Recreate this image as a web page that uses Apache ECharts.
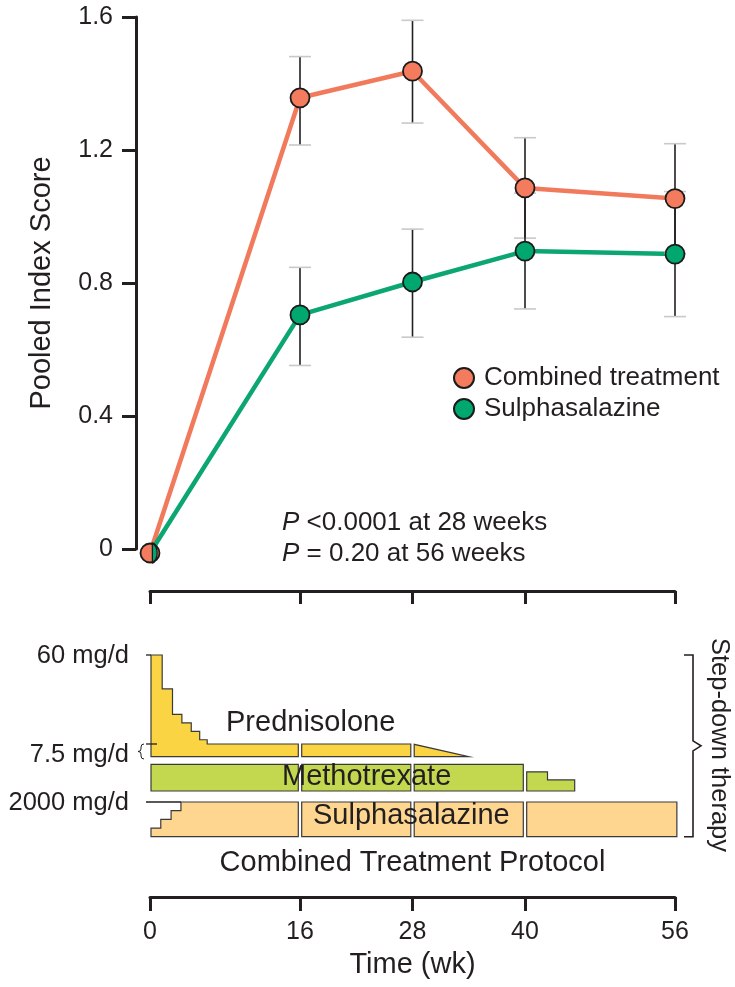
<!DOCTYPE html>
<html><head><meta charset="utf-8">
<script src="https://cdn.jsdelivr.net/npm/echarts@6/dist/echarts.min.js"></script>
<style>html,body{margin:0;padding:0;background:#fff}#c{width:735px;height:987px}</style>
</head><body><div id="c"></div>
<script>
// ---------- data ----------
const weeks = [0, 16, 28, 40, 56];
const combinedMean = [-0.012, 1.357, 1.437, 1.086, 1.054];
const combinedLow  = [null, 1.215, 1.281, 0.935, 0.889];
const combinedHigh = [null, 1.481, 1.590, 1.237, 1.219];
const sulphaMean = [-0.012, 0.704, 0.803, 0.896, 0.887];
const sulphaLow  = [null, 0.552, 0.637, 0.722, 0.699];
const sulphaHigh = [null, 0.847, 0.962, 1.070, 1.075];
const yTicks = [0, 0.4, 0.8, 1.2, 1.6];
const timeTicks = [0, 16, 28, 40, 56];
const seriesNames = ['Combined treatment', 'Sulphasalazine'];
// protocol: [week, dose] outline of each drug's dose
const protocolBreaks = [16, 28, 40];
const predProfile = [[0,60],[1.3,60],[1.3,40],[2.4,40],[2.4,25],[3.4,25],[3.4,20],[4.4,20],[4.4,15],[5.3,15],[5.3,10],[6.1,10],[6.1,7.5],[28,7.5],[34,0]];
const mtxProfile  = [[0,7.5],[40,7.5],[40,5.4],[42.4,5.4],[42.4,3.1],[45.3,3.1],[45.3,0]];
const sszProfile  = [[0,500],[1.15,500],[1.15,1000],[2.25,1000],[2.25,1500],[3.3,1500],[3.3,2000],[56.2,2000]];
const drugMax = [60, 7.5, 2000];
const doseLabels = [[0, 60, '60 mg/d'], [0, 7.5, '7.5 mg/d'], [2, 2000, '2000 mg/d']];
const drugNames = ['Prednisolone', 'Methotrexate', 'Sulphasalazine'];

// ---------- styles ----------
const FF = '"Liberation Sans", Arial, Helvetica, sans-serif';
const INK = '#231F20';
const ORANGE = '#F47B5E', ORANGE_L = '#F27A5C';
const GREEN = '#00A870', GREEN_L = '#0BA672';
const trackStyle = [
  {base: 165.7, full: 101.7, fill: '#FBD443'},
  {base: 200.0, full: 26.7,  fill: '#C3D84E'},
  {base: 245.7, full: 34.7,  fill: '#FED690'}
];
const profiles = [predProfile, mtxProfile, sszProfile];
// top plot: y axis line sits 14px left of week 0
const PX_PER_WEEK = 525 / 56;
const X_PAD_WEEKS = 14 / PX_PER_WEEK;

function errItem(params, api) {
  const x = api.value(0), lo = api.value(1), hi = api.value(2);
  const p1 = api.coord([x, lo]), p2 = api.coord([x, hi]);
  const cap = 11;
  return {type: 'group', children: [
    {type: 'line', shape: {x1: p1[0], y1: p1[1], x2: p2[0], y2: p2[1]}, style: {stroke: INK, lineWidth: 1.6}},
    {type: 'line', shape: {x1: p1[0]-cap, y1: p1[1], x2: p1[0]+cap, y2: p1[1]}, style: {stroke: '#c9c9c9', lineWidth: 1.6}},
    {type: 'line', shape: {x1: p2[0]-cap, y1: p2[1], x2: p2[0]+cap, y2: p2[1]}, style: {stroke: '#c9c9c9', lineWidth: 1.6}}
  ]};
}

function yAt(pts, x) {
  for (let j = 0; j < pts.length - 1; j++) {
    const a = pts[j], b = pts[j+1];
    if (b[0] > a[0] && x >= a[0] && x <= b[0]) return a[1] + (b[1]-a[1])*(x-a[0])/(b[0]-a[0]);
  }
  return pts[pts.length-1][1];
}

function protocolItem(params, api) {
  const i = api.value(1);
  const st = trackStyle[i];
  const top = params.coordSys.y;
  const X = w => api.coord([w, 0])[0];
  const baseY = top + st.base;
  const lvl = d => baseY - d / drugMax[i] * st.full;
  const pts = profiles[i].map(p => [X(p[0]), lvl(p[1])]);
  const xEnd = pts[pts.length-1][0];
  const x0 = X(0) + 1;
  const cuts = protocolBreaks.map(X).filter(x => x < xEnd - 2);
  const bounds = [x0].concat(cuts).concat([xEnd]);
  const children = [];
  for (let k = 0; k < bounds.length - 1; k++) {
    const xa = k === 0 ? bounds[0] : bounds[k] + 1.7;
    const xb = k === bounds.length - 2 ? bounds[k+1] : bounds[k+1] - 1.7;
    const poly = [[xa, baseY], [xa, yAt(pts, xa)]];
    pts.forEach(p => { if (p[0] > xa && p[0] < xb) poly.push(p); });
    poly.push([xb, yAt(pts, xb)]);
    poly.push([xb, baseY]);
    children.push({type: 'polygon', shape: {points: poly},
      style: {fill: st.fill, stroke: '#3a3a3a', lineWidth: 1.2, lineJoin: 'miter'}});
  }
  // dose reference ticks & labels
  doseLabels.forEach(dl => {
    if (dl[0] !== i) return;
    const y = lvl(dl[1]);
    let xr = X(0) + 1;
    if (i === 2) {
      const full = profiles[i].find(p => p[1] === dl[1]);
      xr = X(full[0]);
    }
    if (i === 0 && dl[1] !== drugMax[0]) {
      xr = X(0) + 7;
      children.push({type: 'path', shape: {pathData:
        'M' + (X(0)-6) + ',' + (y) + ' Q' + (X(0)-9) + ',' + (y) + ' ' + (X(0)-9) + ',' + (y+3) +
        ' L' + (X(0)-9) + ',' + (y+5) + ' Q' + (X(0)-9) + ',' + (y+7.5) + ' ' + (X(0)-12) + ',' + (y+7.5) +
        ' Q' + (X(0)-9) + ',' + (y+7.5) + ' ' + (X(0)-9) + ',' + (y+10) +
        ' L' + (X(0)-9) + ',' + (y+12) + ' Q' + (X(0)-9) + ',' + (y+15) + ' ' + (X(0)-6) + ',' + (y+15)},
        style: {fill: null, stroke: INK, lineWidth: 1}});
    }
    children.push({type: 'line', shape: {x1: X(0) - 4, y1: y, x2: xr, y2: y}, style: {stroke: INK, lineWidth: 1.3}});
    const dy = (i === 0 && dl[1] !== drugMax[0]) ? 11 : 1;
    children.push({type: 'text', style: {text: dl[2], x: X(0) - 21, y: y + dy, align: 'right', verticalAlign: 'middle',
      fontSize: 25.5, fontFamily: FF, fill: INK}});
  });
  if (i === 2) {
    const tY = top + trackStyle[0].base - trackStyle[0].full;
    const bY = baseY;
    const xb = X(56) + 18, xh = xb - 9, mY = (tY + bY) / 2;
    children.push({type: 'polyline', shape: {points: [[xh, tY], [xb, tY], [xb, mY - 5], [xb + 8, mY], [xb, mY + 5], [xb, bY], [xh, bY]]},
      style: {fill: null, stroke: INK, lineWidth: 1.6}});
  }
  return {type: 'group', children: children};
}

const chart = echarts.init(document.getElementById('c'), null, {renderer: 'canvas'});
const axisLineStyle = {color: INK, width: 3};

chart.setOption({
  animation: false,
  backgroundColor: '#fff',
  textStyle: {fontFamily: FF, color: INK},
  grid: [
    {left: 150 - 14, top: 17, width: 525 + 14, height: 532},
    {left: 150, top: 591, width: 525, height: 306}
  ],
  xAxis: [
    {gridIndex: 0, type: 'value', min: -X_PAD_WEEKS, max: 56, show: false},
    {gridIndex: 1, type: 'value', min: 0, max: 56, position: 'top',
      axisLine: {show: true, onZero: false, lineStyle: axisLineStyle},
      axisTick: {show: true, inside: true, length: 13, lineStyle: axisLineStyle, customValues: timeTicks},
      axisLabel: {show: false}, splitLine: {show: false}},
    {gridIndex: 1, type: 'value', min: 0, max: 56, position: 'bottom',
      axisLine: {show: true, onZero: false, lineStyle: axisLineStyle},
      axisTick: {show: true, length: 14, lineStyle: axisLineStyle, customValues: timeTicks},
      axisLabel: {show: true, customValues: timeTicks, margin: 23, fontSize: 25, fontFamily: FF, color: INK},
      splitLine: {show: false}}
  ],
  yAxis: [
    {gridIndex: 0, type: 'value', min: yTicks[0], max: yTicks[yTicks.length-1], interval: yTicks[1] - yTicks[0],
      axisLine: {show: true, onZero: false, lineStyle: axisLineStyle},
      axisTick: {show: true, length: 14, lineStyle: axisLineStyle},
      axisLabel: {margin: 23, fontSize: 25, fontFamily: FF, color: INK, formatter: v => v === 0 ? '0' : v.toFixed(1)},
      splitLine: {show: false}},
    {gridIndex: 1, type: 'value', min: 0, max: 306, inverse: true, show: false}
  ],
  legend: {
    data: seriesNames, orient: 'vertical', left: 453, top: 365, itemWidth: 20, itemHeight: 20, itemGap: 5,
    icon: 'circle', selectedMode: false, padding: 0,
    textStyle: {fontSize: 26, fontFamily: FF, color: INK, padding: [0, 0, 0, 5]}
  },
  graphic: [
    {type: 'text', x: 42, y: 283, rotation: Math.PI / 2,
      style: {text: 'Pooled Index Score', align: 'center', verticalAlign: 'middle', fontSize: 29, fontFamily: FF, fill: INK}},
    {type: 'text', x: 282, y: 523,
      style: {text: '{i|P} <0.0001 at 28 weeks', verticalAlign: 'middle', fontSize: 26, fontFamily: FF, fill: INK,
        rich: {i: {fontStyle: 'italic', fontSize: 26, fontFamily: FF, fill: INK}}}},
    {type: 'text', x: 282, y: 554,
      style: {text: '{i|P} = 0.20 at 56 weeks', verticalAlign: 'middle', fontSize: 26, fontFamily: FF, fill: INK,
        rich: {i: {fontStyle: 'italic', fontSize: 26, fontFamily: FF, fill: INK}}}},
    {type: 'text', x: 226, y: 723, z: 10,
      style: {text: drugNames[0], verticalAlign: 'middle', fontSize: 29, fontFamily: FF, fill: INK}},
    {type: 'text', x: 282, y: 777, z: 10,
      style: {text: drugNames[1], verticalAlign: 'middle', fontSize: 29, fontFamily: FF, fill: INK}},
    {type: 'text', x: 313, y: 816, z: 10,
      style: {text: drugNames[2], verticalAlign: 'middle', fontSize: 29, fontFamily: FF, fill: INK}},
    {type: 'text', x: 412.5, y: 863,
      style: {text: 'Combined Treatment Protocol', align: 'center', verticalAlign: 'middle', fontSize: 29, fontFamily: FF, fill: INK}},
    {type: 'text', x: 412.5, y: 965,
      style: {text: 'Time (wk)', align: 'center', verticalAlign: 'middle', fontSize: 29, fontFamily: FF, fill: INK}},
    {type: 'text', x: 719, y: 745, rotation: -Math.PI / 2,
      style: {text: 'Step-down therapy', align: 'center', verticalAlign: 'middle', fontSize: 25.5, fontFamily: FF, fill: INK}}
  ],
  series: [
    {name: 'combinedLine', type: 'line', xAxisIndex: 0, yAxisIndex: 0, z: 2, symbol: 'none', showSymbol: false, clip: false,
      data: weeks.map((w, i) => [w, combinedMean[i]]), lineStyle: {color: ORANGE_L, width: 4.5}},
    {name: 'sulphaLine', type: 'line', xAxisIndex: 0, yAxisIndex: 0, z: 2, symbol: 'none', showSymbol: false, clip: false,
      data: weeks.map((w, i) => [w, sulphaMean[i]]), lineStyle: {color: GREEN_L, width: 4.5}},
    {name: 'combinedErr', type: 'custom', xAxisIndex: 0, yAxisIndex: 0, z: 3, renderItem: errItem, encode: {x: 0, y: [1, 2]},
      data: weeks.map((w, i) => [w, combinedLow[i], combinedHigh[i]]).filter(d => d[1] != null)},
    {name: 'sulphaErr', type: 'custom', xAxisIndex: 0, yAxisIndex: 0, z: 3, renderItem: errItem, encode: {x: 0, y: [1, 2]},
      data: weeks.map((w, i) => [w, sulphaLow[i], sulphaHigh[i]]).filter(d => d[1] != null)},
    {name: seriesNames[0], type: 'scatter', xAxisIndex: 0, yAxisIndex: 0, z: 4, clip: false, symbol: 'circle', symbolSize: 19,
      itemStyle: {color: ORANGE, borderColor: '#1b1b1b', borderWidth: 1.8, opacity: 1},
      data: weeks.map((w, i) => [w, combinedMean[i]])},
    {name: seriesNames[1], type: 'scatter', xAxisIndex: 0, yAxisIndex: 0, z: 5, clip: false, symbol: 'circle', symbolSize: 19,
      itemStyle: {color: GREEN, borderColor: '#1b1b1b', borderWidth: 1.8, opacity: 1},
      data: weeks.map((w, i) => i === 0
        ? {value: [w, sulphaMean[i]], symbol: 'path://M0,0A10,10,0,0,1,0,20Z', symbolSize: [9.5, 19], symbolOffset: [4.75, 0], symbolKeepAspect: true}
        : [w, sulphaMean[i]])},
    {name: 'protocol', type: 'custom', xAxisIndex: 1, yAxisIndex: 1, z: 2, renderItem: protocolItem,
      encode: {x: 0, y: 1}, data: drugNames.map((n, i) => [0, i])}
  ]
});
</script></body></html>
